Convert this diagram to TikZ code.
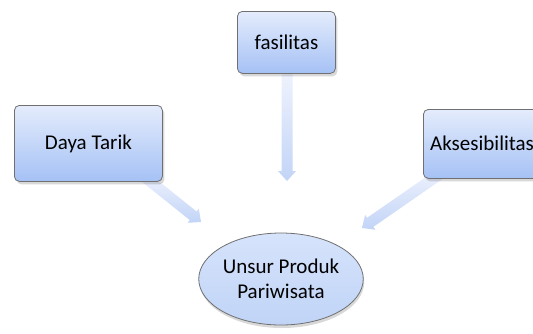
\documentclass[tikz,border=0pt]{standalone}
\usepackage{fontspec}
\setmainfont{Carlito}
\usetikzlibrary{calc,shadows,shapes.geometric}
\definecolor{boxtop}{HTML}{E4ECFC}
\definecolor{boxbot}{HTML}{A5C1F5}
\definecolor{boxline}{HTML}{707070}
\definecolor{elltop}{HTML}{D6E3FB}
\definecolor{ellbot}{HTML}{C0D4F7}
\definecolor{arrtop}{HTML}{EEF2FD}
\definecolor{arrbot}{HTML}{C2D4F7}
\tikzset{
  x=1pt, y=-1pt,
  labelfont/.style={font=\fontsize{21}{25}\selectfont},
  topicbox/.style={draw=boxline, line width=0.8pt, rounded corners=5pt,
    top color=boxtop, bottom color=boxbot, labelfont,
    drop shadow={shadow xshift=2pt, shadow yshift=-3pt, opacity=0.22, fill=black!70},
    inner sep=0pt, anchor=north west},
  mainell/.style={ellipse, draw=boxline, line width=0.8pt,
    top color=elltop, bottom color=ellbot, labelfont,
    align=center, inner sep=0pt,
    drop shadow={shadow xshift=1pt, shadow yshift=-3pt, opacity=0.22, fill=black!70}},
  fatarrow/.style={top color=arrtop, bottom color=arrbot, draw=none}
}
\newcommand{\fatarr}[2]{%
  \shade[fatarrow]
    ($(#1)!5.5pt!90:(#2)$) --
    ($($(#2)!10pt!(#1)$)!5.5pt!-90:(#1)$) --
    ($($(#2)!10pt!(#1)$)!9pt!-90:(#1)$) --
    (#2) --
    ($($(#2)!10pt!(#1)$)!9pt!90:(#1)$) --
    ($($(#2)!10pt!(#1)$)!5.5pt!90:(#1)$) --
    ($(#1)!5.5pt!-90:(#2)$) -- cycle;}
\begin{document}
\begin{tikzpicture}
\useasboundingbox (0,0) rectangle (533,333);
\clip (0,0) rectangle (533,333);
% arrow endpoints
\coordinate (sD) at (146,178);
\coordinate (eD) at (201,222);
\coordinate (sF) at (287,74);
\coordinate (eF) at (287,181);
\coordinate (sA) at (440,174);
\coordinate (eA) at (362,228);
\fatarr{sD}{eD}
\fatarr{sF}{eF}
\fatarr{sA}{eA}
% boxes
\node[topicbox, minimum width=148pt, minimum height=76pt] (daya) at (14,105) {Daya Tarik};
\node[topicbox, minimum width=98pt, minimum height=62pt] (fas) at (237,11) {fasilitas};
\node[topicbox, minimum width=148pt, minimum height=69pt] (aks) at (423,109) {};
\node[anchor=west, labelfont, inner sep=0pt] (akst) at (430,143.5) {Aksesibilitas};
% ellipse
\node[mainell, minimum width=158pt, minimum height=92pt] (unsur) at (281,279) {Unsur Produk\\Pariwisata};
\end{tikzpicture}
\end{document}
